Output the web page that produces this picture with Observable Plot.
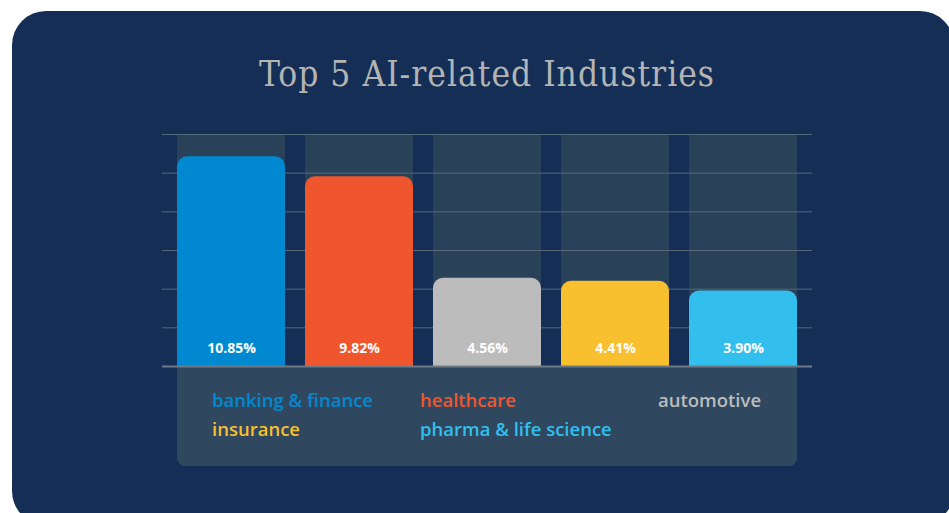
<!DOCTYPE html>
<html>
<head>
<meta charset="utf-8">
<script src="https://cdn.jsdelivr.net/npm/d3@7"></script>
<script src="https://cdn.jsdelivr.net/npm/@observablehq/plot@0.6"></script>
<style>
  html, body { margin: 0; padding: 0; background: #ffffff; }
  #page { position: relative; width: 949px; height: 513px; overflow: hidden; background: #ffffff; }
  #card { position: absolute; left: 12px; top: 11px; width: 942px; height: 514px; border-radius: 34px; background: #142e55; }
  #title { position: absolute; left: 0; width: 974px; top: 53px; text-align: center; color: #b4b4b4;
           font-family: "DejaVu Serif Condensed", "DejaVu Serif", serif; font-size: 35px; letter-spacing: 1px; font-stretch: condensed; line-height: 1.2; }
  #panel { position: absolute; left: 177px; top: 366px; width: 620px; height: 100px; background: #2f4860; border-radius: 0 0 8px 8px; }
  #chart { position: absolute; left: 0; top: 0; }
  .leg { position: absolute; font-family: "Open Sans", Lato, sans-serif; font-weight: 600; font-size: 18.5px; white-space: nowrap; line-height: 22px; }
</style>
</head>
<body>
<div id="page">
  <div id="card"></div>
  <div id="title">Top 5 AI-related Industries</div>
  <div id="panel"></div>
  <div id="chart"></div>
</div>
<script>
const categories = ["banking & finance", "healthcare", "automotive", "insurance", "pharma & life science"];
const shares = [10.85, 9.82, 4.56, 4.41, 3.90];
const colors = ["#0089d0", "#f0562e", "#bcbcbc", "#f8bf2e", "#33bfee"];
const yTicks = [0, 2, 4, 6, 8, 10, 12];

const data = categories.map((name, i) => ({name, share: shares[i]}));
const yMax = d3.max(yTicks);

const chart = Plot.plot({
  width: 949,
  height: 513,
  marginLeft: 162,
  marginRight: 137,
  marginTop: 134,
  marginBottom: 147,
  style: {background: "transparent", overflow: "visible"},
  x: {domain: categories, paddingInner: 0.15625, paddingOuter: 0.1172, round: false, axis: null},
  y: {domain: [0, yMax], axis: null},
  color: {domain: categories, range: colors},
  marks: [
    Plot.barY(data, {x: "name", y: () => yMax, fill: "#2a4259"}),
    Plot.ruleY(yTicks.slice(1), {stroke: "#56687a", strokeWidth: 1}),
    Plot.barY(data, {x: "name", y: "share", fill: "name", rx: 10, insetBottom: -14, clip: true}),
    Plot.text(data, {x: "name", text: d => d.share.toFixed(2) + "%", frameAnchor: "bottom", dy: -14,
      fill: "white", fontSize: 14, fontWeight: "bold", fontFamily: "'Open Sans', Lato, sans-serif"}),
    Plot.ruleY([0], {stroke: "#6e7b87", strokeWidth: 2})
  ]
});
document.getElementById("chart").appendChild(chart);

// legend (HTML text, three columns)
const page = document.getElementById("page");
const colX = [212, 420, 658];
const rowY = [389, 418];
categories.forEach((name, i) => {
  const el = document.createElement("div");
  el.className = "leg";
  el.textContent = name;
  el.style.color = colors[i];
  el.style.left = colX[i % 3] + "px";
  el.style.top = rowY[Math.floor(i / 3)] + "px";
  page.appendChild(el);
});
</script>
</body>
</html>
